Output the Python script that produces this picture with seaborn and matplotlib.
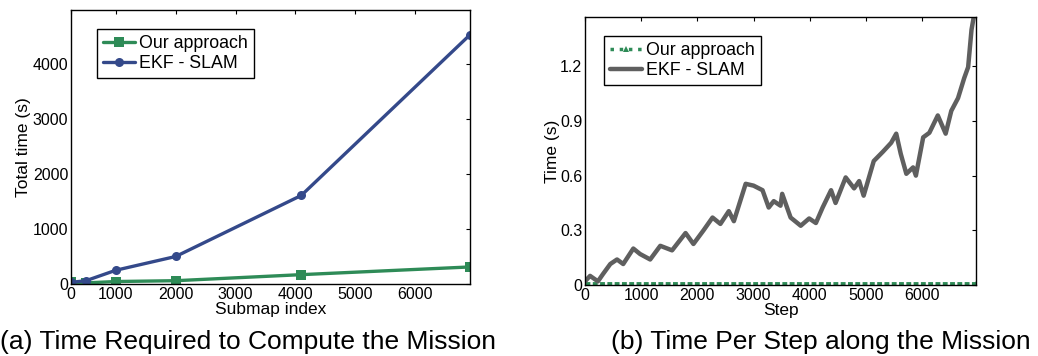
import matplotlib
matplotlib.use("Agg")
import matplotlib.pyplot as plt
import seaborn as sns

# =========================
# DATA
# =========================
# (a) total time per submap
submap_x = [250, 500, 1000, 2000, 4100, 6920]
ours_total = [30, 20, 45, 60, 170, 310]
ekf_total = [30, 60, 250, 500, 1610, 4530]
left_ticks = [250, 1000, 2000, 3000, 4000, 5000, 6000]
left_tick_labels = ["0", "1000", "2000", "3000", "4000", "5000", "6000"]

# (b) time per step
ekf_steps = [0, 90, 230, 320, 450, 570, 680, 860, 980, 1160, 1340, 1550,
             1790, 1930, 2110, 2270, 2410, 2560, 2650, 2860, 3000, 3160,
             3270, 3360, 3480, 3510, 3660, 3840, 3990, 4110, 4230, 4380,
             4460, 4640, 4790, 4880, 4960, 5140, 5300, 5450, 5540, 5620,
             5720, 5840, 5890, 6020, 6130, 6280, 6420, 6520, 6640, 6750,
             6820, 6880, 6920, 6960]
ekf_step_time = [0.02, 0.05, 0.02, 0.06, 0.115, 0.14, 0.115, 0.20, 0.17,
                 0.14, 0.215, 0.19, 0.285, 0.225, 0.30, 0.37, 0.335, 0.405,
                 0.35, 0.555, 0.545, 0.52, 0.425, 0.46, 0.435, 0.50, 0.37,
                 0.325, 0.365, 0.34, 0.425, 0.52, 0.45, 0.59, 0.53, 0.57,
                 0.49, 0.68, 0.73, 0.78, 0.83, 0.72, 0.61, 0.645, 0.60, 0.81,
                 0.835, 0.93, 0.83, 0.955, 1.025, 1.135, 1.195, 1.40, 1.47,
                 1.60]
ours_steps = [0, 1000, 2000, 3000, 4000, 5000, 6000, 6960]
ours_step_time = [0.008, 0.008, 0.008, 0.008, 0.008, 0.008, 0.008, 0.008]

GREEN = "#2e8b57"
BLUE = "#34498a"
GREY = "#5f5f5f"

sns.set_theme(style="white")
plt.rcParams["font.family"] = ["Liberation Sans", "DejaVu Sans"]
plt.rcParams["text.color"] = "black"
plt.rcParams["axes.labelcolor"] = "black"

fig = plt.figure(figsize=(10.38, 3.56), dpi=100)
ax1 = fig.add_axes([71 / 1038, 72 / 356, 399 / 1038, 274 / 356])
ax2 = fig.add_axes([585 / 1038, 71 / 356, 391 / 1038, 268 / 356])

# =========================
# (a) TOTAL TIME
# =========================
sns.lineplot(x=submap_x, y=ours_total, ax=ax1, color=GREEN, lw=2.4,
             marker="s", markersize=6.5, markeredgewidth=0, label="Our approach")
sns.lineplot(x=submap_x, y=ekf_total, ax=ax1, color=BLUE, lw=2.4,
             marker="o", markersize=6.5, markeredgewidth=0, label="EKF - SLAM")
ax1.set_xlim(250, 6920)
ax1.set_ylim(0, 4980)
ax1.set_xticks(left_ticks)
ax1.set_xticklabels(left_tick_labels)
ax1.set_yticks([0, 1000, 2000, 3000, 4000])
ax1.set_xlabel("Submap index", fontsize=12.5, labelpad=0)
ax1.set_ylabel("Total time (s)", fontsize=12.5, labelpad=1)

# =========================
# (b) TIME PER STEP
# =========================
sns.lineplot(x=ours_steps, y=ours_step_time, ax=ax2, color=GREEN, lw=3.5,
             linestyle=(0, (1, 0.5)), marker="^", markersize=5,
             markeredgewidth=0, markevery=[0, len(ours_steps) - 1],
             label="Our approach")
sns.lineplot(x=ekf_steps, y=ekf_step_time, ax=ax2, color=GREY, lw=3.2,
             label="EKF - SLAM")
ax2.set_xlim(0, 6960)
ax2.set_ylim(0, 1.47)
ax2.set_xticks([0, 1000, 2000, 3000, 4000, 5000, 6000])
ax2.set_yticks([0, 0.3, 0.6, 0.9, 1.2])
ax2.set_yticklabels(["0", "0.3", "0.6", "0.9", "1.2"])
ax2.set_xlabel("Step", fontsize=12.5, labelpad=0)
ax2.set_ylabel("Time (s)", fontsize=12.5, labelpad=0)

for ax, loc in [(ax1, (0.065, 0.93)), (ax2, (0.049, 0.929))]:
    ax.tick_params(direction="in", top=True, right=True, length=3,
                   width=0.8, labelsize=11.5, pad=2, colors="black")
    for s in ax.spines.values():
        s.set_color("black")
        s.set_linewidth(1)
    leg = ax.legend(loc="upper left", bbox_to_anchor=loc, fontsize=12.8,
                    frameon=True, fancybox=False, handlelength=1.8,
                    handletextpad=0.2, borderpad=0.35, labelspacing=0.15,
                    borderaxespad=0)
    leg.get_frame().set_edgecolor("black")
    leg.get_frame().set_linewidth(1)
    leg.get_frame().set_alpha(1)
    for t in leg.get_texts():
        t.set_color("black")

# legend handle for the per-step curve shown as a dotted line, as in the original
ax2.get_legend().get_lines()[0].set_linestyle(":")
ax2.get_legend().get_lines()[0].set_linewidth(2.5)

fig.text(248 / 1038, 1 - 342 / 356, "(a) Time Required to Compute the Mission",
         ha="center", va="center", fontsize=19, color="black")
fig.text(821 / 1038, 1 - 342 / 356, "(b) Time Per Step along the Mission",
         ha="center", va="center", fontsize=19, color="black")

fig.savefig("out.png", dpi=100)
